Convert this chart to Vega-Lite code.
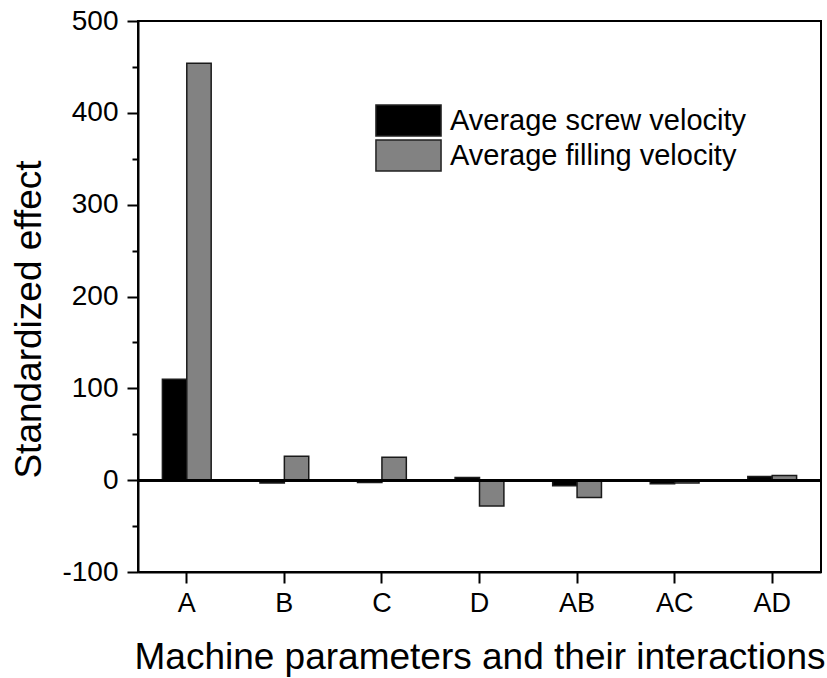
{
  "$schema": "https://vega.github.io/schema/vega-lite/v6.json",
  "width": 683,
  "height": 551,
  "autosize": "none",
  "padding": {"left": 138, "top": 21, "right": 6, "bottom": 106},
  "background": "white",
  "config": {
    "font": "Liberation Sans",
    "view": {"stroke": "black", "strokeWidth": 2},
    "axis": {"grid": false, "labelColor": "black", "titleColor": "black", "tickColor": "black", "domainColor": "black", "domainWidth": 2, "tickWidth": 2, "titleFontWeight": "normal"}
  },
  "data": {
    "values": [
      {"param": "A", "series": "Average screw velocity", "value": 110},
      {"param": "A", "series": "Average filling velocity", "value": 454},
      {"param": "B", "series": "Average screw velocity", "value": -3},
      {"param": "B", "series": "Average filling velocity", "value": 26},
      {"param": "C", "series": "Average screw velocity", "value": -2.5},
      {"param": "C", "series": "Average filling velocity", "value": 25},
      {"param": "D", "series": "Average screw velocity", "value": 3},
      {"param": "D", "series": "Average filling velocity", "value": -28},
      {"param": "AB", "series": "Average screw velocity", "value": -6},
      {"param": "AB", "series": "Average filling velocity", "value": -19},
      {"param": "AC", "series": "Average screw velocity", "value": -4},
      {"param": "AC", "series": "Average filling velocity", "value": -3},
      {"param": "AD", "series": "Average screw velocity", "value": 4},
      {"param": "AD", "series": "Average filling velocity", "value": 5}
    ]
  },
  "resolve": {"axis": {"y": "independent"}},
  "layer": [
    {
      "mark": {"type": "bar", "stroke": "#1a1a1a", "strokeWidth": 1.5},
      "encoding": {
        "x": {
          "field": "param", "type": "nominal",
          "sort": ["A", "B", "C", "D", "AB", "AC", "AD"],
          "scale": {"paddingInner": 0.5, "paddingOuter": 0.25},
          "axis": {"title": "Machine parameters and their interactions", "labelAngle": 0, "labelFontSize": 27, "labelPadding": 7, "tickSize": 11, "titleFontSize": 37, "titleBaseline": "alphabetic", "titleY": 96}
        },
        "xOffset": {"field": "series", "type": "nominal", "sort": ["Average screw velocity", "Average filling velocity"]},
        "y": {
          "field": "value", "type": "quantitative",
          "scale": {"domain": [-100, 500], "nice": false, "zero": false},
          "axis": {"title": "Standardized effect", "values": [-100, 0, 100, 200, 300, 400, 500], "labelExpr": "datum.value < 0 ? '-' + abs(datum.value) : datum.label", "labelFontSize": 28, "labelPadding": 9, "tickSize": 11, "titleFontSize": 37, "titleBaseline": "alphabetic", "titleX": -98, "titleY": 298}
        },
        "color": {
          "field": "series", "type": "nominal",
          "scale": {"domain": ["Average screw velocity", "Average filling velocity"], "range": ["#000000", "#828282"]},
          "legend": {"orient": "none", "legendX": 254, "legendY": 83, "title": null, "padding": 0, "symbolType": "M-2.1,-1H2.1V1H-2.1Z", "symbolSize": 961, "symbolStrokeColor": "#222222", "symbolStrokeWidth": 1.5, "labelFontSize": 29, "labelColor": "black", "labelOffset": 25, "rowPadding": -2, "labelLimit": 500}
        }
      }
    },
    {
      "mark": {"type": "rule", "color": "black", "strokeWidth": 2},
      "encoding": {"y": {"datum": 0, "type": "quantitative", "axis": null}}
    },
    {
      "mark": {"type": "point", "opacity": 0},
      "encoding": {
        "y": {"datum": 0, "type": "quantitative",
          "axis": {"orient": "left", "values": [-50, 50, 150, 250, 350, 450], "labels": false, "domain": false, "tickSize": 6, "title": null}}
      }
    }
  ]
}
